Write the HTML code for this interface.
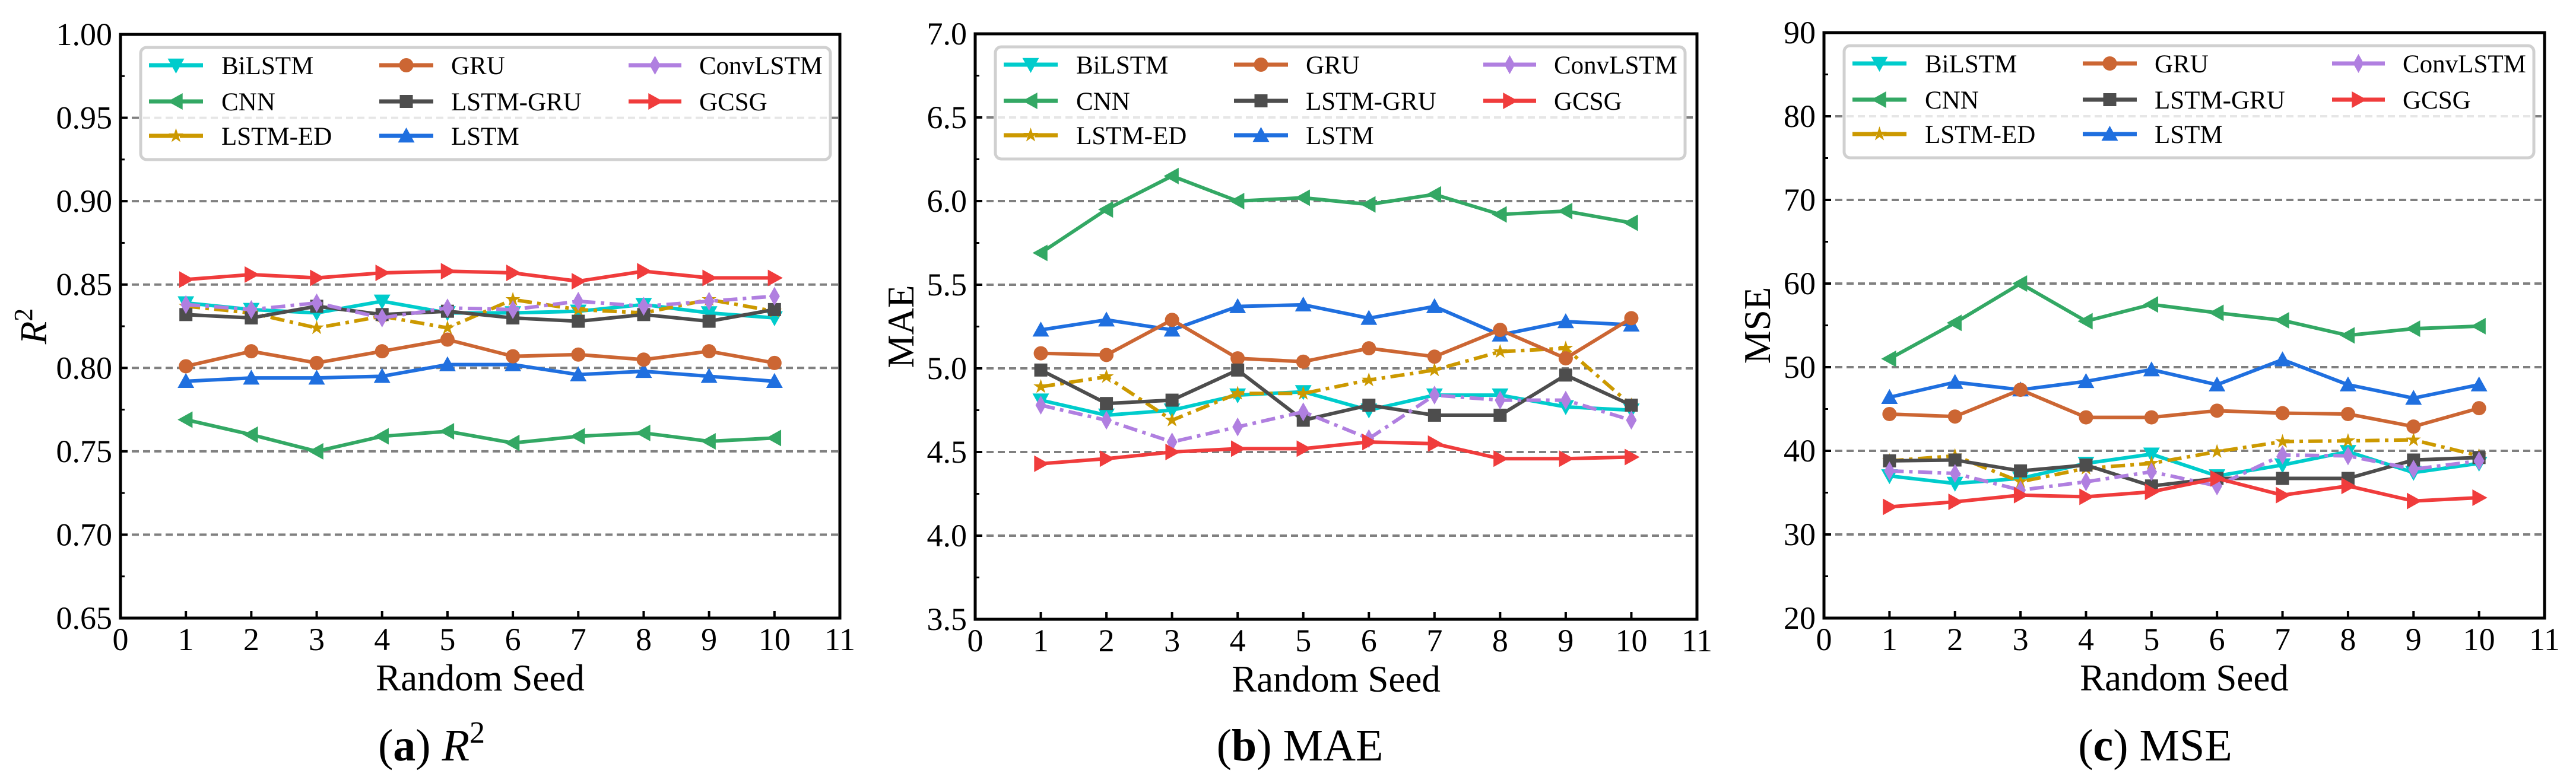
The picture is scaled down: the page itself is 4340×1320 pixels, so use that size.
<!DOCTYPE html>
<html><head><meta charset="utf-8"><style>
html,body{margin:0;padding:0;background:#fff;}
svg{display:block;}
text{font-family:"Liberation Serif","DejaVu Serif",serif;fill:#000;}
</style></head><body>
<svg id="fig" width="4340" height="1320" viewBox="0 0 4340 1320" xmlns="http://www.w3.org/2000/svg"></svg>
<script>
const seeds = [1,2,3,4,5,6,7,8,9,10];
const seriesNames = ["BiLSTM","CNN","LSTM-ED","LSTM","GRU","LSTM-GRU","ConvLSTM","GCSG"];

const r2BiLSTM   = [0.839,0.835,0.833,0.840,0.833,0.833,0.834,0.838,0.833,0.830];
const r2CNN      = [0.769,0.760,0.750,0.759,0.762,0.755,0.759,0.761,0.756,0.758];
const r2LSTMED   = [0.837,0.833,0.824,0.831,0.824,0.841,0.835,0.833,0.841,0.834];
const r2LSTM     = [0.792,0.794,0.794,0.795,0.802,0.802,0.796,0.798,0.795,0.792];
const r2GRU      = [0.801,0.810,0.803,0.810,0.817,0.807,0.808,0.805,0.810,0.803];
const r2LSTMGRU  = [0.832,0.830,0.837,0.832,0.834,0.830,0.828,0.832,0.828,0.835];
const r2ConvLSTM = [0.838,0.835,0.839,0.830,0.836,0.835,0.840,0.837,0.840,0.843];
const r2GCSG     = [0.853,0.856,0.854,0.857,0.858,0.857,0.852,0.858,0.854,0.854];

const maeBiLSTM   = [4.81,4.72,4.75,4.84,4.86,4.75,4.84,4.84,4.77,4.75];
const maeCNN      = [5.69,5.95,6.15,6.00,6.02,5.98,6.04,5.92,5.94,5.87];
const maeLSTMED   = [4.89,4.95,4.69,4.85,4.85,4.93,4.99,5.10,5.12,4.78];
const maeLSTM     = [5.23,5.29,5.23,5.37,5.38,5.30,5.37,5.20,5.28,5.26];
const maeGRU      = [5.09,5.08,5.29,5.06,5.04,5.12,5.07,5.23,5.06,5.30];
const maeLSTMGRU  = [4.99,4.79,4.81,4.99,4.69,4.78,4.72,4.72,4.96,4.78];
const maeConvLSTM = [4.78,4.69,4.56,4.65,4.74,4.58,4.84,4.81,4.81,4.69];
const maeGCSG     = [4.43,4.46,4.50,4.52,4.52,4.56,4.55,4.46,4.46,4.47];

const mseBiLSTM   = [37.0,36.1,36.7,38.5,39.6,37.0,38.3,39.9,37.4,38.5];
const mseCNN      = [51.0,55.3,60.0,55.5,57.5,56.5,55.6,53.8,54.6,54.9];
const mseLSTMED   = [38.8,39.4,36.3,37.9,38.5,39.9,41.1,41.2,41.3,39.4];
const mseLSTM     = [46.4,48.2,47.3,48.3,49.7,47.9,50.9,47.9,46.3,47.9];
const mseGRU      = [44.4,44.1,47.3,44.0,44.0,44.8,44.5,44.4,42.9,45.1];
const mseLSTMGRU  = [38.8,38.9,37.6,38.3,35.8,36.7,36.7,36.7,38.9,39.2];
const mseConvLSTM = [37.6,37.3,35.3,36.3,37.5,35.8,39.5,39.4,37.8,38.8];
const mseGCSG     = [33.3,33.9,34.7,34.5,35.1,36.7,34.7,35.8,34.0,34.4];

const r2Ticks  = [0.65,0.70,0.75,0.80,0.85,0.90,0.95,1.00];
const maeTicks = [3.5,4.0,4.5,5.0,5.5,6.0,6.5,7.0];
const mseTicks = [20,30,40,50,60,70,80,90];
const xTicks   = [0,1,2,3,4,5,6,7,8,9,10,11];

const NS="http://www.w3.org/2000/svg";
const svg=document.getElementById('fig');
function mk(tag,attrs,parent){const e=document.createElementNS(NS,tag);for(const k in attrs)e.setAttribute(k,attrs[k]);(parent||svg).appendChild(e);return e;}

const styles={
 "BiLSTM":{c:"#00CCCC",m:"tridown",d:null},
 "CNN":{c:"#33A864",m:"trileft",d:null},
 "LSTM-ED":{c:"#CC9900",m:"star",d:"24,9,6,9"},
 "LSTM":{c:"#1F6FDF",m:"triup",d:null},
 "GRU":{c:"#CC6633",m:"circle",d:null},
 "LSTM-GRU":{c:"#4D4D4D",m:"square",d:null},
 "ConvLSTM":{c:"#B07FE0",m:"diamond",d:"24,9,6,9"},
 "GCSG":{c:"#F03C3C",m:"triright",d:null}
};

function marker(g,type,x,y,color){
 const s=14;let p;
 if(type==="circle") return mk('circle',{cx:x,cy:y,r:12,fill:color},g);
 if(type==="square") return mk('rect',{x:x-11,y:y-11,width:22,height:22,fill:color},g);
 if(type==="triup") p=[[x,y-s],[x-s,y+s*0.8],[x+s,y+s*0.8]];
 if(type==="tridown") p=[[x,y+s],[x-s,y-s*0.8],[x+s,y-s*0.8]];
 if(type==="trileft") p=[[x-s,y],[x+s*0.8,y-s],[x+s*0.8,y+s]];
 if(type==="triright") p=[[x+s,y],[x-s*0.8,y-s],[x-s*0.8,y+s]];
 if(type==="diamond") p=[[x,y-16],[x+9,y],[x,y+16],[x-9,y]];
 if(type==="star"){p=[];for(let i=0;i<10;i++){const r=i%2?5:13;const a=-Math.PI/2+i*Math.PI/5;p.push([x+r*Math.cos(a),y+r*Math.sin(a)]);}}
 return mk('polygon',{points:p.map(q=>q.join(',')).join(' '),fill:color},g);
}

function panel(cfg){
 const {L,T,W,H,ticks,fmt,data,ylabel,ylx,caption,capx,key}=cfg;
 const g=mk('g',{});
 
 
 const ymin=ticks[0],ymax=ticks[ticks.length-1];
 const X=v=>L+(v-0)/(11-0)*W;
 const Y=v=>T+H-(v-ymin)/(ymax-ymin)*H;
 // grid
 ticks.forEach((t,i)=>{ if(i===0||i===ticks.length-1) return;
  const gl=mk('line',{x1:L,x2:L+W,y1:Y(t),y2:Y(t),stroke:"#808080","stroke-width":4,"stroke-dasharray":"12,7"},g);
  
  
 });
 // series
 seriesNames.forEach((n,si)=>{
  const st=styles[n];const vals=data[si];
  const sg=mk('g',{},g);
  
  
  const pts=seeds.map((s,i)=>X(s)+','+Y(vals[i])).join(' ');
  const pl=mk('polyline',{points:pts,fill:'none',stroke:st.c,'stroke-width':6,'stroke-linejoin':'round'},sg);
  if(st.d) pl.setAttribute('stroke-dasharray',st.d);
  seeds.forEach((s,i)=>{const m=marker(sg,st.m,X(s),Y(vals[i]),st.c);
   
   });
 });
 // frame
 const fr=mk('rect',{x:L,y:T,width:W,height:H,fill:'none',stroke:'#000','stroke-width':5},g);
 
 
 // y ticks
 ticks.forEach((t,i)=>{
  mk('line',{x1:L,x2:L+12,y1:Y(t),y2:Y(t),stroke:'#000','stroke-width':4},g);
  if(i<ticks.length-1){const mv=(t+ticks[i+1])/2;mk('line',{x1:L,x2:L+7,y1:Y(mv),y2:Y(mv),stroke:'#000','stroke-width':3},g);}
  const tl=mk('text',{x:L-14,y:Y(t)+18,'text-anchor':'end','font-size':54},g);
  tl.textContent=fmt(t);
  
  
 });
 // x ticks
 xTicks.forEach(t=>{
  mk('line',{x1:X(t),x2:X(t),y1:T+H,y2:T+H-12,stroke:'#000','stroke-width':4},g);
  const tl=mk('text',{x:X(t),y:T+H+54,'text-anchor':'middle','font-size':54},g);
  tl.textContent=t;
  
  
 });
 const xl=mk('text',{x:L+W/2,y:T+H+122,'text-anchor':'middle','font-size':63},g);
 xl.textContent="Random Seed";
 
 
 const yl=mk('text',{x:ylx,y:T+H/2,'text-anchor':'middle','font-size':63,transform:`rotate(-90 ${ylx} ${T+H/2})`,dy:22},g);
 yl.innerHTML=ylabel;
 
 
 const cp=mk('text',{x:capx,y:1282,'text-anchor':'middle','font-size':76},g);
 cp.innerHTML=caption;
 
 
 // legend
 const lg=mk('g',{},g);
 
 
 const lx=L+34,ly=T+22;
 mk('rect',{x:lx,y:ly,width:1162,height:189,rx:10,fill:'rgba(255,255,255,0.8)',stroke:'#d0d0d0','stroke-width':5},lg);
 const order=[["BiLSTM","CNN","LSTM-ED"],["GRU","LSTM-GRU","LSTM"],["ConvLSTM","GCSG"]];
 const colX=[[14,105,136],[402,493,523],[822,911,941]];
 const rowY=[30,91,149];
 order.forEach((col,ci)=>col.forEach((n,ri)=>{
  const st=styles[n];const cy=ly+rowY[ri];const x1=lx+colX[ci][0],x2=lx+colX[ci][1];
  const e=mk('g',{},lg);
  
  
  const ln=mk('line',{x1:x1,x2:x2,y1:cy,y2:cy,stroke:st.c,'stroke-width':7},e);
  if(st.d) ln.setAttribute('stroke-dasharray','40,12');
  marker(e,st.m,(x1+x2)/2,cy,st.c);
  const t=mk('text',{x:lx+colX[ci][2],y:cy+15,'font-size':43},e);
  t.textContent=n;
 }));
}

const dR2=[r2BiLSTM,r2CNN,r2LSTMED,r2LSTM,r2GRU,r2LSTMGRU,r2ConvLSTM,r2GCSG];
const dMAE=[maeBiLSTM,maeCNN,maeLSTMED,maeLSTM,maeGRU,maeLSTMGRU,maeConvLSTM,maeGCSG];
const dMSE=[mseBiLSTM,mseCNN,mseLSTMED,mseLSTM,mseGRU,mseLSTMGRU,mseConvLSTM,mseGCSG];

panel({key:'r2',L:203,T:58,W:1212,H:984,ticks:r2Ticks,fmt:v=>v.toFixed(2),data:dR2,
 ylabel:'<tspan font-style="italic">R</tspan><tspan dy="-24" font-size="44">2</tspan>',ylx:56,
 caption:'(<tspan font-weight="bold">a</tspan>) <tspan font-style="italic">R</tspan><tspan dy="-30" font-size="52">2</tspan>',capx:727});
panel({key:'mae',L:1643,T:57,W:1216,H:987,ticks:maeTicks,fmt:v=>v.toFixed(1),data:dMAE,
 ylabel:'MAE',ylx:1517,caption:'(<tspan font-weight="bold">b</tspan>) MAE',capx:2190});
panel({key:'mse',L:3073,T:55,W:1214,H:987,ticks:mseTicks,fmt:v=>String(v),data:dMSE,
 ylabel:'MSE',ylx:2960,caption:'(<tspan font-weight="bold">c</tspan>) MSE',capx:3631});
</script>
</body></html>
